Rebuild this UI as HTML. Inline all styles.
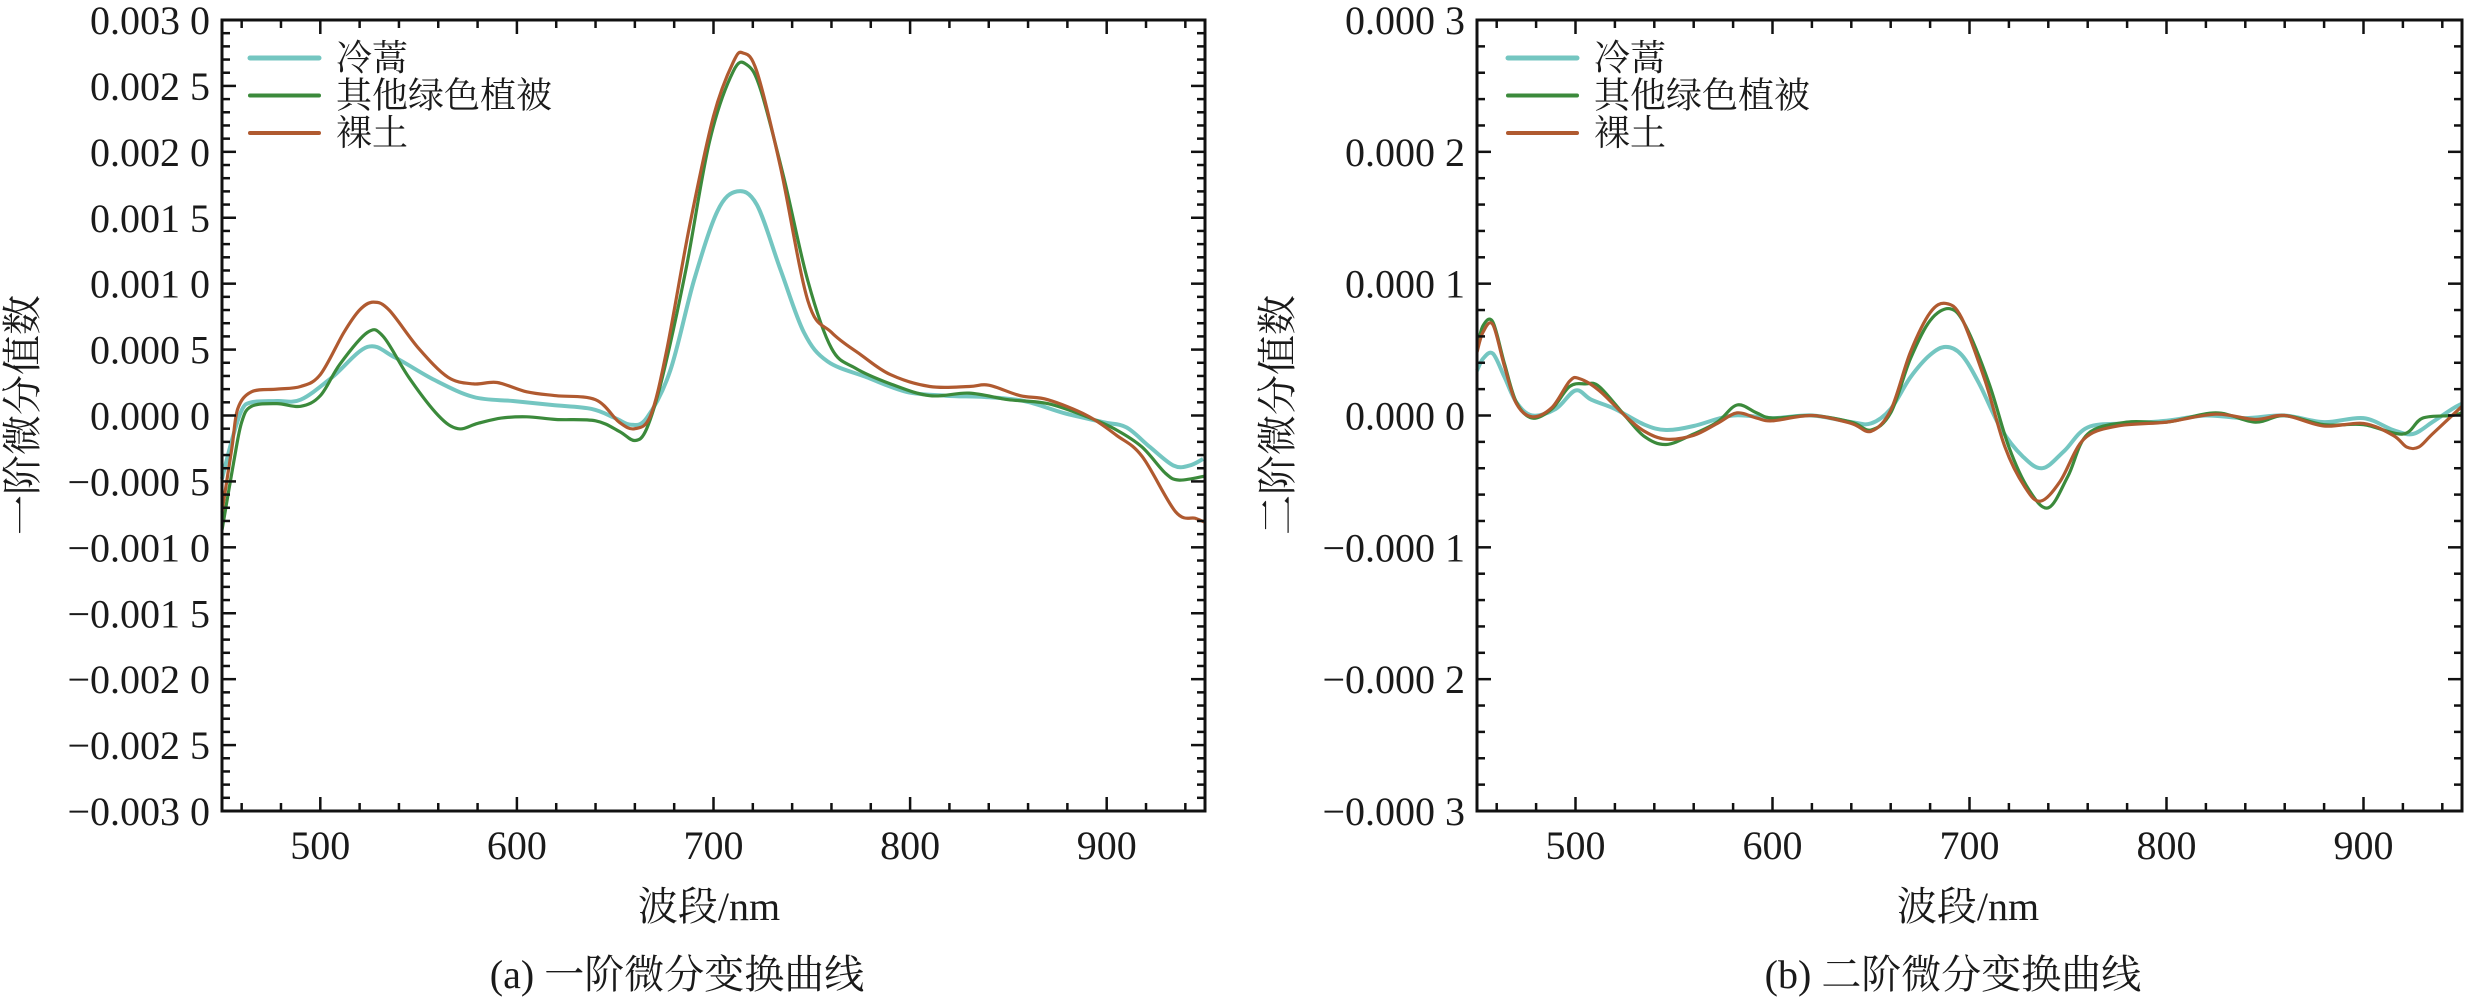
<!DOCTYPE html>
<html><head><meta charset="utf-8">
<style>
html,body{margin:0;padding:0;background:#fff;}
body{width:2472px;height:1002px;overflow:hidden;}
svg text{font-family:"Liberation Serif","Noto Serif CJK SC","Noto Sans CJK SC",serif;fill:#1a1a1a;}
</style></head>
<body>
<svg id="s" width="2472" height="1002" xmlns="http://www.w3.org/2000/svg">
<g id="p1"></g><g id="p2"></g>
<text x="709" y="920" font-size="40" text-anchor="middle">波段/nm</text>
<text x="1968" y="920" font-size="40" text-anchor="middle">波段/nm</text>
<text x="677" y="988" font-size="40" text-anchor="middle">(a) 一阶微分变换曲线</text>
<text x="1953" y="988" font-size="40" text-anchor="middle">(b) 二阶微分变换曲线</text>
<text transform="translate(36,415) rotate(-90)" font-size="40" text-anchor="middle">一阶微分值数</text>
<text transform="translate(1291,415) rotate(-90)" font-size="40" text-anchor="middle">二阶微分值数</text>
</svg>
<script>
const NS="http://www.w3.org/2000/svg";
function el(p,t,a,txt){const e=document.createElementNS(NS,t);for(const k in a)e.setAttribute(k,a[k]);if(txt!==undefined)e.textContent=txt;p.appendChild(e);return e;}
function smooth(pts){let d="M"+pts[0][0].toFixed(1)+","+pts[0][1].toFixed(1);
for(let i=0;i<pts.length-1;i++){const p0=pts[i-1]||pts[i],p1=pts[i],p2=pts[i+1],p3=pts[i+2]||p2;
const c1=[p1[0]+(p2[0]-p0[0])/6,p1[1]+(p2[1]-p0[1])/6],c2=[p2[0]-(p3[0]-p1[0])/6,p2[1]-(p3[1]-p1[1])/6];
d+="C"+c1[0].toFixed(1)+","+c1[1].toFixed(1)+" "+c2[0].toFixed(1)+","+c2[1].toFixed(1)+" "+p2[0].toFixed(1)+","+p2[1].toFixed(1);}return d;}
function panel(g,L,R,T,B,yTicks,yMinorStep,yMax,fmt,series,legX){
 const X=nm=>L+(nm-450)*(R-L)/500, Y=v=>T+(yMax-v)*(B-T)/(2*yMax);
 const cols=["#74c6c1","#3b8a3b","#b05a30"];
 series.forEach((s,i)=>{el(g,"path",{d:smooth(s.map(p=>[X(p[0]),Y(p[1])])),fill:"none",stroke:cols[i],"stroke-width":i==0?4:3.2,"stroke-linejoin":"round"});});
 el(g,"rect",{x:L,y:T,width:R-L,height:B-T,fill:"none",stroke:"#111","stroke-width":3});
 for(let nm=460;nm<=940;nm+=20){const maj=nm%100==0,len=maj?14:8,x=X(nm);
  el(g,"line",{x1:x,y1:B,x2:x,y2:B-len,stroke:"#111","stroke-width":2.5});
  el(g,"line",{x1:x,y1:T,x2:x,y2:T+len,stroke:"#111","stroke-width":2.5});
  if(maj)el(g,"text",{x:x,y:859,"font-size":40,"text-anchor":"middle"},String(nm));}
 const n=Math.round(2*yMax/yMinorStep);
 for(let i=0;i<=n;i++){const v=-yMax+i*yMinorStep,y=Y(v);
  const maj=yTicks.some(t=>Math.abs(t-v)<1e-9),len=maj?14:8;
  el(g,"line",{x1:L,y1:y,x2:L+len,y2:y,stroke:"#111","stroke-width":2.5});
  el(g,"line",{x1:R,y1:y,x2:R-len,y2:y,stroke:"#111","stroke-width":2.5});}
 yTicks.forEach(v=>{el(g,"text",{x:L-12,y:Y(v)+14,"font-size":40,"text-anchor":"end"},fmt(v));});
 const names=["冷蒿","其他绿色植被","裸土"];
 names.forEach((nmz,i)=>{const y=58+i*37.5;
  el(g,"line",{x1:legX,y1:y,x2:legX+69,y2:y,stroke:cols[i],"stroke-width":i==0?5:4,"stroke-linecap":"round"});
  el(g,"text",{x:legX+86,y:y+12,"font-size":36},nmz);});
}
function f1(v){const a=Math.abs(v).toFixed(4);return (v<-1e-12?"−":"")+a.slice(0,5)+" "+a.slice(5);}
const c1=[[450,-4.8],[455,-1.9],[460,0.4],[465,1.0],[478,1.1],[490,1.2],[506,2.9],[524,5.2],[538,4.4],[558,2.7],[578,1.4],[598,1.1],[618,0.8],[638,0.5],[650,-0.2],[658,-0.7],[666,-0.2],[678,3.4],[690,10.2],[702,15.5],[712,17.0],[722,16.0],[734,11.1],[746,6.3],[758,4.1],[778,2.9],[798,1.8],[818,1.5],[838,1.4],[858,1.1],[878,0.2],[898,-0.5],[910,-0.9],[922,-2.4],[934,-3.8],[942,-3.8],[949,-3.3]];
const g1=[[450,-8.7],[456,-3.5],[460,-0.5],[465,0.7],[478,0.9],[490,0.7],[500,1.5],[510,3.9],[524,6.3],[532,6.0],[545,2.9],[560,0],[570,-1.0],[580,-0.6],[592,-0.2],[605,-0.1],[620,-0.3],[640,-0.4],[652,-1.2],[660,-1.9],[666,-1.0],[674,2.9],[686,11.1],[698,20.8],[710,26.1],[717,26.6],[724,24.7],[736,17.9],[748,10.2],[760,5.1],[772,3.6],[790,2.4],[810,1.5],[830,1.7],[850,1.2],[870,0.9],[890,-0.1],[905,-1.1],[918,-2.4],[930,-4.4],[937,-4.9],[950,-4.6]];
const b1=[[450,-7.3],[455,-2.5],[458,0.5],[465,1.8],[478,2.0],[490,2.2],[500,3.1],[512,6.3],[520,8.0],[527,8.6],[535,8.0],[550,5.1],[565,2.9],[578,2.4],[590,2.5],[605,1.8],[620,1.5],[640,1.2],[652,-0.5],[660,-1.0],[668,0],[676,4.8],[688,14.5],[700,22.7],[710,26.8],[715,27.5],[722,26.1],[734,18.9],[748,8.7],[760,6.3],[775,4.6],[790,3.1],[810,2.2],[830,2.2],[840,2.3],[856,1.5],[870,1.2],[890,0],[905,-1.5],[918,-3.1],[935,-7.3],[945,-7.8],[950,-8.1]];
const c2=[[450,3.4],[453,4.3],[458,4.7],[464,2.9],[470,1.0],[478,0],[490,0.5],[500,1.9],[508,1.2],[520,0.5],[535,-0.7],[546,-1.1],[560,-0.8],[580,0],[600,-0.2],[620,0],[640,-0.5],[650,-0.6],[660,0.5],[670,2.9],[680,4.6],[688,5.2],[696,4.6],[705,2.4],[716,-1.0],[727,-3.1],[737,-4.0],[748,-2.7],[760,-0.9],[780,-0.6],[800,-0.4],[820,0],[840,-0.2],[860,0],[880,-0.5],[900,-0.2],[915,-1.1],[925,-1.4],[935,-0.5],[945,0.5],[950,0.9]];
const g2=[[450,5.1],[453,6.8],[458,7.1],[464,3.9],[470,1.0],[478,-0.2],[488,0.5],[497,2.2],[505,2.4],[512,2.2],[525,0],[535,-1.6],[546,-2.2],[560,-1.4],[572,-0.5],[582,0.8],[592,0.2],[600,-0.2],[620,0],[640,-0.5],[650,-1.1],[660,0.2],[670,4.3],[680,7.2],[690,8.1],[698,6.8],[710,2.4],[720,-2.4],[730,-5.6],[740,-7.0],[750,-4.6],[760,-1.4],[780,-0.5],[800,-0.5],[825,0.2],[845,-0.5],[860,0],[880,-0.7],[900,-0.7],[920,-1.4],[930,-0.2],[945,0],[950,0.2]];
const b2=[[450,4.8],[453,6.3],[458,6.9],[464,3.7],[470,0.9],[478,-0.1],[488,0.6],[497,2.6],[502,2.8],[512,1.9],[525,0],[535,-1.2],[546,-1.8],[560,-1.5],[572,-0.6],[582,0.2],[592,-0.2],[600,-0.4],[620,0],[640,-0.6],[650,-1.2],[660,0.4],[670,4.8],[680,7.8],[688,8.5],[696,7.4],[708,2.6],[718,-2.4],[728,-5.4],[736,-6.5],[746,-5.0],[758,-1.8],[775,-0.8],[800,-0.5],[825,0.1],[845,-0.3],[860,0],[880,-0.8],[900,-0.6],[915,-1.5],[922,-2.4],[928,-2.4],[935,-1.4],[950,0.7]];
panel(document.getElementById("p1"),222,1205,20,811,[-30,-25,-20,-15,-10,-5,0,5,10,15,20,25,30],1,30,v=>f1(v*1e-4),[c1,g1,b1],250);
panel(document.getElementById("p2"),1477,2462,20,811,[-30,-20,-10,0,10,20,30],2,30,v=>f1(v*1e-5),[c2,g2,b2],1508);
</script>
</body></html>
